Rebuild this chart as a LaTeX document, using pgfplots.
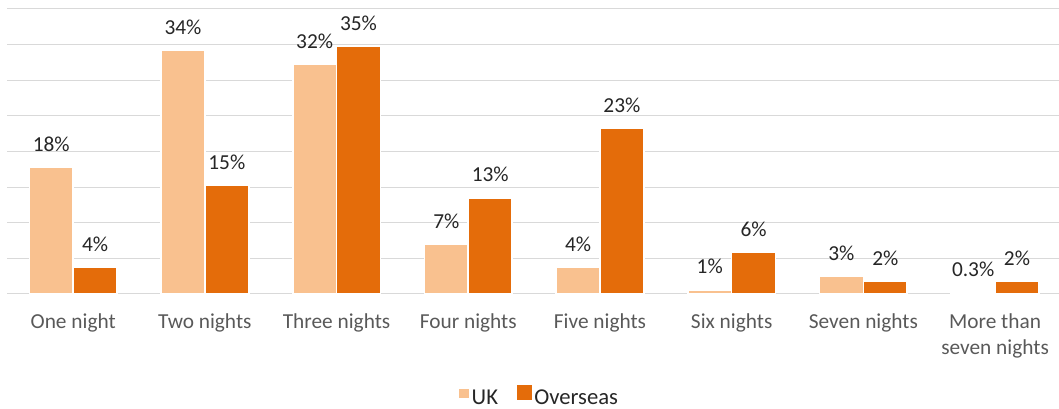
\documentclass[border=0pt]{standalone}
\usepackage{pgfplots}
\pgfplotsset{compat=1.18}
\usepackage{pgfplotstable}
\usepackage{fontspec}
\setmainfont{Carlito}
\definecolor{ukc}{HTML}{F9C18F}
\definecolor{ovc}{HTML}{E46C0A}
\definecolor{gridc}{HTML}{D9D9D9}
\definecolor{tickc}{HTML}{595959}
\definecolor{labc}{HTML}{262626}
\pgfplotstableread{
x uk ukl ov ovl
0 17.8 18 3.75 4
1 34.2 34 15.3 15
2 32.3 32 34.8 35
3 7.0 7 13.5 13
4 3.8 4 23.2 23
5 0.6 1 5.8 6
6 2.5 3 1.8 2
7 0.3 0.3 1.8 2
}\data
\begin{document}
\begin{tikzpicture}
\useasboundingbox (0,0) rectangle (794.25pt,306.75pt);
\begin{axis}[
  at={(5.5pt,86.25pt)}, anchor=south west,
  scale only axis, width=790.2pt, height=213.75pt,
  xmin=-0.5, xmax=7.5, ymin=0, ymax=40,
  ybar=0pt, bar width=32.9pt,
  axis x line*=bottom, axis y line*=left,
  y axis line style={draw=none},
  x axis line style={gridc, line width=0.75pt},
  ytick={0,5,...,40}, yticklabels={}, ytick style={draw=none},
  ymajorgrids, grid style={gridc, line width=0.75pt},
  xtick={0,...,7}, xtick style={draw=none},
  major tick length=0pt,
  minor xtick={-0.5,0.5,...,7.5},
  minor x tick style={gridc, line width=0.75pt},
  minor tick length=5pt, tick align=outside,
  xticklabels={One night, Two nights, Three nights, Four nights, Five nights, Six nights, Seven nights, {More than\\seven nights}},
  xticklabel style={font=\fontsize{16}{19.5}\selectfont, text=tickc, align=center, anchor=north, yshift=-11pt},
  point meta=explicit symbolic,
  nodes near coords={\pgfplotspointmeta\%},
  every node near coord/.append style={font=\fontsize{16}{18}\selectfont, text=labc, anchor=center, yshift=17.25pt},
  legend style={at={(0.5056,-0.3614)}, anchor=center, draw=none, fill=none, legend columns=2, font=\fontsize{17}{20}\selectfont, text=labc, nodes={inner sep=2pt}, /tikz/every even column/.append style={column sep=12pt}},
]
\addplot[fill=ukc, draw=white, line width=1.2pt,
  legend image code/.code={\fill[ukc] (2pt,0.5pt) rectangle (8pt,6.5pt);}] table[x=x, y=uk, meta=ukl] {\data};
\addplot[fill=ovc, draw=white, line width=1.2pt,
  legend image code/.code={\fill[ovc] (0pt,-0.5pt) rectangle (10pt,9.5pt);}] table[x=x, y=ov, meta=ovl] {\data};
\legend{UK, Overseas}
\end{axis}
\end{tikzpicture}
\end{document}
